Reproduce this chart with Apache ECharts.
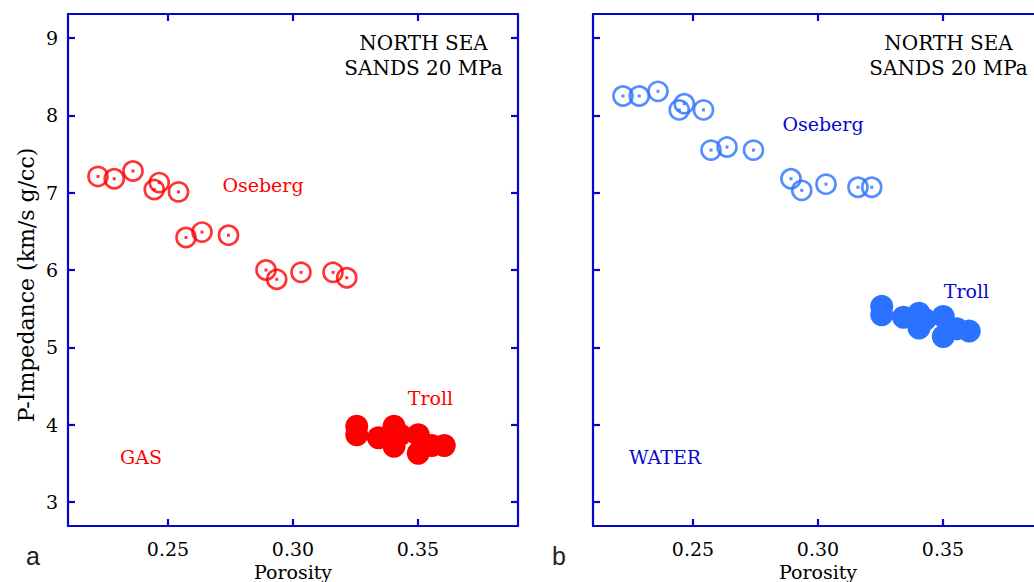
<!DOCTYPE html>
<html>
<head>
<meta charset="utf-8">
<script src="https://cdn.jsdelivr.net/npm/echarts@6/dist/echarts.min.js"></script>
<style>
html,body{margin:0;padding:0;background:#fff;}
#chart{width:1034px;height:582px;}
</style>
</head>
<body>
<div id="chart"></div>
<script>
// ---- data ----
var osebergPorosity = [0.222, 0.2285, 0.236, 0.2465, 0.2445, 0.2542, 0.2572, 0.2636, 0.2742, 0.2892, 0.2935, 0.3032, 0.316, 0.3215];
var osebergGasIp    = [7.21, 7.18, 7.28, 7.13, 7.04, 7.01, 6.42, 6.49, 6.45, 6.00, 5.88, 5.97, 5.97, 5.90];
var osebergWaterIp  = [8.25, 8.25, 8.31, 8.15, 8.07, 8.07, 7.55, 7.59, 7.55, 7.18, 7.03, 7.11, 7.07, 7.07];
var trollPorosity   = [0.3255, 0.3255, 0.3342, 0.3404, 0.3404, 0.3428, 0.3501, 0.3501, 0.3555, 0.3605];
var trollGasIp      = [3.98, 3.87, 3.83, 3.98, 3.72, 3.87, 3.87, 3.63, 3.73, 3.73];
var trollWaterIp    = [5.53, 5.42, 5.39, 5.44, 5.25, 5.36, 5.40, 5.14, 5.24, 5.21];
var xTicks = [0.25, 0.30, 0.35];
var xTickLabels = ['0.25', '0.30', '0.35'];
var yTicks = [3, 4, 5, 6, 7, 8, 9];
var yTickLabels = ['3', '4', '5', '6', '7', '8', '9'];
var xRange = [0.21, 0.39];
var yRange = [2.69, 9.31];

function pairs(xs, ys){ return xs.map(function(x,i){ return [x, ys[i]]; }); }

var AX = '#0505cc';
var FONT = 'DejaVu Serif';
var RED = '#ff0000';
var LBLUE = '#2a72ff';
var DBLUE = '#0808cc';
var INK = '#000';

function xAx(grid, pos, labels){
  return {
    type:'value', gridIndex:grid, position:pos, min:xRange[0], max:xRange[1],
    axisLine:{show:true, onZero:false, lineStyle:{color:AX, width:2.2}},
    axisTick:{show:true, inside:true, length:7, lineStyle:{color:AX, width:2.2}, customValues:xTicks},
    axisLabel:{show:labels, customValues:xTicks, margin:13, color:INK, fontFamily:FONT, fontSize:19,
      formatter:function(v){ var i = xTicks.indexOf(v); return i>=0 ? xTickLabels[i] : v.toFixed(2); }},
    splitLine:{show:false},
    name: labels ? 'Porosity' : '', nameLocation:'middle', nameGap:35,
    nameTextStyle:{color:INK, fontFamily:FONT, fontSize:19}
  };
}
function yAx(grid, pos, labels, name){
  return {
    type:'value', gridIndex:grid, position:pos, min:yRange[0], max:yRange[1],
    axisLine:{show:true, onZero:false, lineStyle:{color:AX, width:2.2}},
    axisTick:{show:true, inside:true, length:7, lineStyle:{color:AX, width:2.2}, customValues:yTicks},
    axisLabel:{show:labels, customValues:yTicks, margin:10, color:INK, fontFamily:FONT, fontSize:19,
      formatter:function(v){ var i = yTicks.indexOf(v); return i>=0 ? yTickLabels[i] : String(v); }},
    splitLine:{show:false},
    name: name || '', nameLocation:'middle', nameGap:31, nameRotate:90,
    nameTextStyle:{color:INK, fontFamily:FONT, fontSize:22, padding:[0, 30, 0, 0]}
  };
}

function hollow(name, xi, yi, data, color){
  return [{
    type:'scatter', name:name, xAxisIndex:xi, yAxisIndex:yi, data:data,
    symbol:'circle', symbolSize:19,
    itemStyle:{color:'rgba(0,0,0,0)', borderColor:color, borderWidth:2.7}, z:3
  },{
    type:'scatter', name:name+' centre', xAxisIndex:xi, yAxisIndex:yi, data:data,
    symbol:'rect', symbolSize:3, itemStyle:{color:color}, z:4
  }];
}
function filled(name, xi, yi, data, color){
  return {
    type:'scatter', name:name, xAxisIndex:xi, yAxisIndex:yi, data:data,
    symbol:'circle', symbolSize:23, itemStyle:{color:color, opacity:1}, z:3
  };
}

var chart = echarts.init(document.getElementById('chart'), null, {renderer:'svg'});
var series = []
  .concat(hollow('Oseberg gas', 0, 0, pairs(osebergPorosity, osebergGasIp), RED))
  .concat([filled('Troll gas', 0, 0, pairs(trollPorosity, trollGasIp), RED)])
  .concat(hollow('Oseberg water', 2, 2, pairs(osebergPorosity, osebergWaterIp), LBLUE))
  .concat([filled('Troll water', 2, 2, pairs(trollPorosity, trollWaterIp), LBLUE)]);

function t(x, y, s, color, size, fam){
  return {type:'text', x:x, y:y, style:{text:s, fill:color, font:size+'px "'+(fam||FONT)+'"', align:'center', verticalAlign:'middle'}};
}

chart.setOption({
  animation:false,
  backgroundColor:'#fff',
  grid:[
    {left:68, top:14, width:450, height:512, outerBoundsMode:'none', containLabel:false},
    {left:593, top:14, width:450, height:512, outerBoundsMode:'none', containLabel:false}
  ],
  xAxis:[ xAx(0,'bottom',true), xAx(0,'top',false), xAx(1,'bottom',true), xAx(1,'top',false) ],
  yAxis:[ yAx(0,'left',true,'P-Impedance (km/s g/cc)'), yAx(0,'right',false), yAx(1,'left',false), yAx(1,'right',false) ],
  series:series,
  graphic:[
    t(423.5, 43, 'NORTH SEA', INK, 20),
    t(423.5, 68, 'SANDS 20 MPa', INK, 20),
    t(948.5, 43, 'NORTH SEA', INK, 20),
    t(948.5, 68, 'SANDS 20 MPa', INK, 20),
    t(263, 185, 'Oseberg', RED, 19),
    t(430.5, 398, 'Troll', RED, 19),
    t(141, 457, 'GAS', RED, 19),
    t(823, 124, 'Oseberg', DBLUE, 19),
    t(966.5, 291, 'Troll', DBLUE, 19),
    t(665, 457, 'WATER', DBLUE, 19),
    t(33, 556, 'a', '#222', 25, 'Liberation Sans'),
    t(559, 556, 'b', '#222', 25, 'Liberation Sans')
  ]
});
</script>
</body>
</html>
